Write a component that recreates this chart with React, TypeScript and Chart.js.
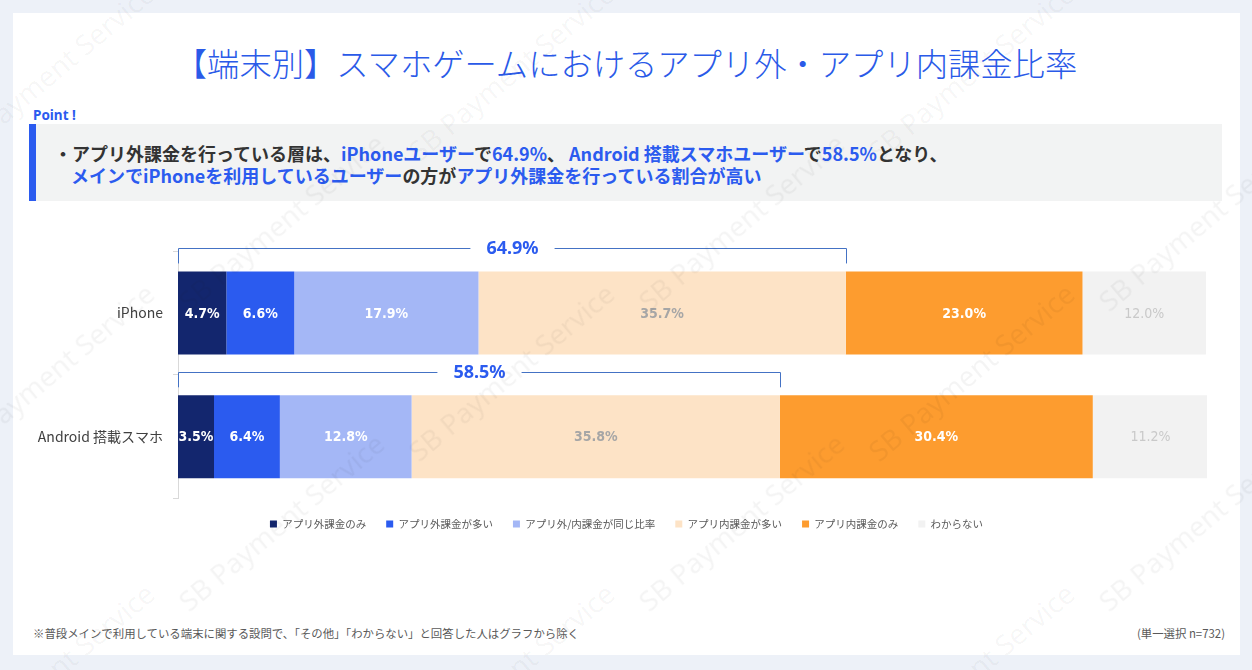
import React, { useEffect, useRef } from "react";
import { Chart, registerables } from "chart.js";

Chart.register(...registerables);

const categories = ["iPhone", "Android 搭載スマホ"];
const seriesNames = [
  "アプリ外課金のみ",
  "アプリ外課金が多い",
  "アプリ外/内課金が同じ比率",
  "アプリ内課金が多い",
  "アプリ内課金のみ",
  "わからない",
];
const seriesValues: number[][] = [
  [4.7, 3.5],
  [6.6, 6.4],
  [17.9, 12.8],
  [35.7, 35.8],
  [23.0, 30.4],
  [12.0, 11.2],
];
const seriesColors = ["#13266e", "#2b5bef", "#a4b7f6", "#fde3c6", "#fd9c2f", "#f2f2f2"];
const labelColors = ["#ffffff", "#ffffff", "#ffffff", "#a6a6a6", "#ffffff", "#c9c9c9"];
const labelBold = [true, true, true, true, true, false];
const bracketSeriesCount = 4; // アプリ外課金を行っている層 = first four series

const BLUE = "#2b5bef";
const JP = "'Noto Sans CJK JP', 'Noto Sans', sans-serif";
const NARROW = "'Liberation Sans Narrow', 'DejaVu Sans Condensed', 'Roboto', sans-serif";

const valueLabelPlugin = {
  id: "valueLabels",
  afterDatasetsDraw(chart: any) {
    const ctx = chart.ctx;
    ctx.save();
    ctx.textAlign = "center";
    ctx.textBaseline = "middle";
    chart.data.datasets.forEach((ds: any, di: number) => {
      const meta = chart.getDatasetMeta(di);
      meta.data.forEach((bar: any, i: number) => {
        const v = ds.data[i];
        const cx = (bar.x + bar.base) / 2;
        ctx.font = `${labelBold[di] ? "bold " : ""}14px ${NARROW}`;
        ctx.fillStyle = labelColors[di];
        ctx.fillText(v.toFixed(1) + "%", cx, bar.y + 1);
      });
    });
    ctx.restore();
  },
};

const bracketPlugin = {
  id: "brackets",
  afterDatasetsDraw(chart: any) {
    const ctx = chart.ctx;
    const xs = chart.scales.x;
    ctx.save();
    categories.forEach((_, i) => {
      let sum = 0;
      for (let s = 0; s < bracketSeriesCount; s++) sum += seriesValues[s][i];
      sum = Math.round(sum * 10) / 10;
      const bar = chart.getDatasetMeta(0).data[i];
      const top = bar.y - bar.height / 2;
      const ly = Math.round(top - 23) + 0.5;
      const x0 = Math.round(xs.getPixelForValue(0)) + 0.5;
      const x1 = Math.round(xs.getPixelForValue(sum)) + 0.5;
      const mid = (x0 + x1) / 2;
      const text = sum.toFixed(1) + "%";
      ctx.font = `bold 18px 'Noto Sans', 'Roboto', sans-serif`;
      const tw = ctx.measureText(text).width;
      const gap = tw / 2 + 16;
      ctx.strokeStyle = "#4472c4";
      ctx.lineWidth = 1;
      ctx.beginPath();
      ctx.moveTo(x0, top - 8);
      ctx.lineTo(x0, ly);
      ctx.lineTo(mid - gap, ly);
      ctx.moveTo(mid + gap, ly);
      ctx.lineTo(x1, ly);
      ctx.lineTo(x1, top - 8);
      ctx.stroke();
      ctx.fillStyle = BLUE;
      ctx.textAlign = "center";
      ctx.textBaseline = "middle";
      ctx.fillText(text, mid, ly);
    });
    ctx.restore();
  },
};

// nudge the legend row so it is centred under the whole card, as in the source slide
const legendShiftPlugin = {
  id: "legendShift",
  afterLayout(chart: any) {
    if (chart.legend) {
      chart.legend.left += 13;
      chart.legend.right += 13;
    }
  },
};

function ChartBox() {
  const ref = useRef<HTMLCanvasElement | null>(null);
  useEffect(() => {
    if (!ref.current) return;
    const chart = new Chart(ref.current, {
      type: "bar",
      data: {
        labels: categories,
        datasets: seriesNames.map((name, s) => ({
          label: name,
          data: seriesValues[s],
          backgroundColor: seriesColors[s],
          borderWidth: 0,
          barPercentage: 0.67,
          categoryPercentage: 1,
        })),
      },
      options: {
        indexAxis: "y",
        animation: false,
        responsive: false,
        devicePixelRatio: 1,
        layout: { padding: { left: 0, right: 23, top: 30, bottom: 11.75 } },
        scales: {
          x: { stacked: true, min: 0, max: 100, display: false },
          y: {
            stacked: true,
            afterFit(scale: any) {
              scale.width = 158;
            },
            grid: {
              display: true,
              drawOnChartArea: false,
              tickLength: 5,
              color: "#d9d9d9",
              offset: true,
            },
            border: { display: true, color: "#d9d9d9" },
            ticks: {
              padding: 10,
              color: "#404040",
              font: { family: JP, size: 14 },
            },
          },
        },
        plugins: {
          legend: {
            position: "bottom",
            labels: {
              boxWidth: 7,
              boxHeight: 7,
              padding: 20,
              color: "#595959",
              font: { family: JP, size: 10.5 },
            },
          },
          tooltip: { enabled: false },
        },
      } as any,
      plugins: [valueLabelPlugin, bracketPlugin, legendShiftPlugin],
    });
    return () => chart.destroy();
  }, []);
  return (
    <canvas
      ref={ref}
      width={1210}
      height={330}
      style={{ position: "absolute", left: 20, top: 221, width: 1210, height: 330 }}
    />
  );
}

const wmPositions: [number, number][] = [];
for (let r = 0; r < 5; r++) {
  for (let c = 0; c < 4; c++) {
    wmPositions.push([-60 + c * 460 + (r % 2) * 230, -40 + r * 150]);
  }
}

export default function App() {
  const b = (t: string) => <span style={{ color: BLUE }}>{t}</span>;
  return (
    <div
      style={{
        position: "absolute",
        left: 0,
        top: 0,
        width: 1252,
        height: 670,
        background: "#edf1f8",
        overflow: "hidden",
        fontFamily: JP,
      }}
    >
      <div
        style={{
          position: "absolute",
          left: 13,
          top: 13,
          width: 1227,
          height: 642,
          background: "#ffffff",
        }}
      />
      <div
        style={{
          position: "absolute",
          left: 0,
          width: 1252,
          top: 40,
          height: 44,
          lineHeight: "44px",
          textAlign: "center",
          fontSize: 32.3,
          color: "#2a5ae8",
          fontWeight: 300,
        }}
      >
        【端末別】スマホゲームにおけるアプリ外・アプリ内課金比率
      </div>
      <div
        style={{
          position: "absolute",
          left: 33,
          top: 106,
          fontSize: 13.5,
          lineHeight: "18px",
          fontWeight: 700,
          color: BLUE,
          fontFamily: "'Noto Sans', sans-serif",
        }}
      >
        Point !
      </div>
      <div
        style={{
          position: "absolute",
          left: 29,
          top: 124,
          width: 1193,
          height: 77,
          background: "#f2f3f3",
          borderLeft: `7px solid ${BLUE}`,
          boxSizing: "border-box",
        }}
      />
      <div
        style={{
          position: "absolute",
          left: 54,
          top: 140,
          fontSize: 18,
          lineHeight: "26px",
          fontWeight: 700,
          color: "#333333",
          whiteSpace: "nowrap",
        }}
      >
        ・アプリ外課金を行っている層は、{b("iPhoneユーザー")}で{b("64.9%")}、 {b("Android 搭載スマホユーザー")}で
        {b("58.5%")}となり、
      </div>
      <div
        style={{
          position: "absolute",
          left: 71,
          top: 162,
          fontSize: 18,
          lineHeight: "26px",
          fontWeight: 700,
          color: "#333333",
          whiteSpace: "nowrap",
        }}
      >
        {b("メインでiPhoneを利用しているユーザー")}の方が{b("アプリ外課金を行っている割合が高い")}
      </div>
      <ChartBox />
      <div
        style={{
          position: "absolute",
          left: 33,
          top: 625,
          fontSize: 11.4,
          lineHeight: "16px",
          color: "#595959",
          whiteSpace: "nowrap",
        }}
      >
        ※普段メインで利用している端末に関する設問で、「その他」「わからない」と回答した人はグラフから除く
      </div>
      <div
        style={{
          position: "absolute",
          right: 27,
          top: 625,
          fontSize: 11.4,
          lineHeight: "16px",
          color: "#595959",
          whiteSpace: "nowrap",
        }}
      >
        (単一選択 n=732)
      </div>
      {wmPositions.map(([x, y], i) => (
        <div
          key={i}
          style={{
            position: "absolute",
            left: x,
            top: y,
            fontSize: 28,
            color: "rgba(0,0,0,0.045)",
            transform: "rotate(-40deg)",
            transformOrigin: "0 0",
            whiteSpace: "nowrap",
            pointerEvents: "none",
            fontFamily: "'Noto Sans', sans-serif",
            translate: "0 180px",
          }}
        >
          SB Payment Service
        </div>
      ))}
    </div>
  );
}
